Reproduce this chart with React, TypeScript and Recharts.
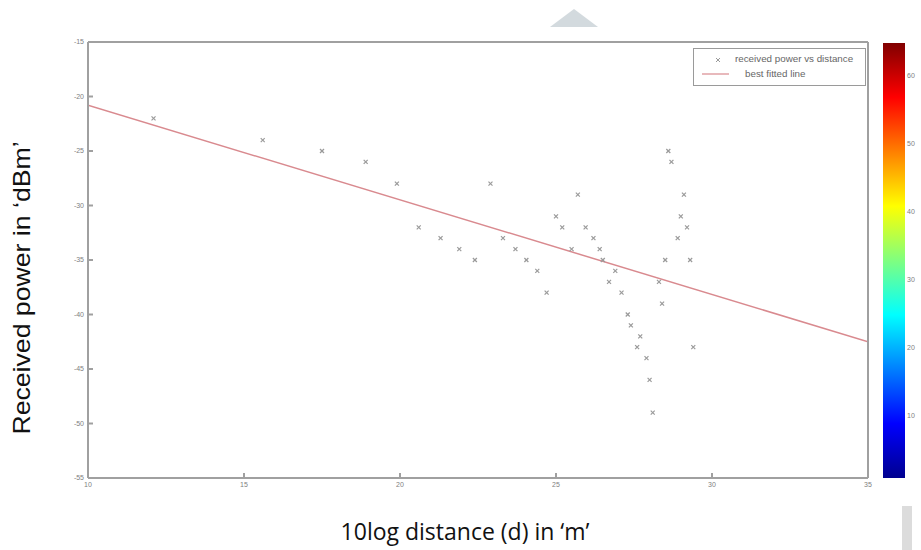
import React from 'react'
import { ComposedChart, Scatter, Line, XAxis, YAxis } from 'recharts'

// measured points: 10log distance vs received power
const distance = [12.1, 15.6, 17.5, 18.9, 19.9, 20.6, 21.3, 21.9, 22.4, 22.9, 23.3, 23.7, 24.05, 24.4, 24.7, 25.0, 25.2, 25.5, 25.7, 25.95, 26.2, 26.4, 26.5, 26.7, 26.9, 27.1, 27.3, 27.4, 27.6, 27.7, 27.9, 28.0, 28.1, 28.3, 28.4, 28.5, 28.6, 28.7, 28.9, 29.0, 29.1, 29.2, 29.3, 29.4]
const power = [-22, -24, -25, -26, -28, -32, -33, -34, -35, -28, -33, -34, -35, -36, -38, -31, -32, -34, -29, -32, -33, -34, -35, -37, -36, -38, -40, -41, -43, -42, -44, -46, -49, -37, -39, -35, -25, -26, -33, -31, -29, -32, -35, -43]

// best fitted line end points
const fitX = [10, 35]
const fitY = [-20.8, -42.5]

const xTicks = [10, 15, 20, 25, 30, 35]
const yTicks = [-15, -20, -25, -30, -35, -40, -45, -50, -55]
const colorTicks = [10, 20, 30, 40, 50, 60]

const points = distance.map((x, i) => ({ x, y: power[i] }))
const fitLine = fitX.map((x, i) => ({ x, y: fitY[i] }))

const axisColor = '#a0a0a0'
const tickStyle = { fontSize: 7, fill: '#808080', stroke: 'none', fontFamily: 'Liberation Sans' }

const Dot = (props: any) => {
  const { cx, cy } = props
  if (cx == null || cy == null) return null
  return (
    <g stroke="#9a9a9a" strokeWidth={1.2}>
      <line x1={cx - 2} y1={cy - 2} x2={cx + 2} y2={cy + 2} />
      <line x1={cx - 2} y1={cy + 2} x2={cx + 2} y2={cy - 2} />
    </g>
  )
}

// colorbar value range (approx 1..65)
const cbMin = 1
const cbMax = 65
const cbTop = 43
const cbBottom = 478

const App: React.FC = () => {
  return (
    <div style={{ position: 'absolute', left: 0, top: 0, width: 921, height: 550, background: '#fff' }}>
      <ComposedChart width={921} height={550} margin={{ top: 42, right: 53, bottom: 42, left: 58 }}>
        <XAxis
          xAxisId="b"
          type="number"
          dataKey="x"
          domain={[10, 35]}
          ticks={xTicks}
          allowDataOverflow
          height={30}
          stroke={axisColor}
          strokeWidth={2}
          tickSize={-5}
          tickMargin={9}
          tick={tickStyle}
        />
        <XAxis
          xAxisId="t"
          orientation="top"
          type="number"
          dataKey="x"
          domain={[10, 35]}
          ticks={xTicks}
          height={1}
          mirror
          tick={false}
          tickSize={5}
          stroke={axisColor}
          strokeWidth={2}
        />
        <YAxis
          yAxisId="l"
          type="number"
          dataKey="y"
          domain={[-55, -15]}
          ticks={yTicks}
          allowDataOverflow
          width={30}
          stroke={axisColor}
          strokeWidth={2}
          tickSize={-5}
          tickMargin={9}
          tick={tickStyle}
        />
        <YAxis
          yAxisId="r"
          orientation="right"
          type="number"
          dataKey="y"
          domain={[-55, -15]}
          ticks={yTicks}
          width={1}
          mirror
          tick={false}
          tickSize={5}
          stroke={axisColor}
          strokeWidth={2}
        />
        <Line
          xAxisId="b"
          yAxisId="l"
          data={fitLine}
          dataKey="y"
          stroke="#d98a8f"
          strokeWidth={1.5}
          dot={false}
          isAnimationActive={false}
        />
        <Scatter
          xAxisId="b"
          yAxisId="l"
          data={points}
          shape={<Dot />}
          isAnimationActive={false}
        />
      </ComposedChart>

      {/* legend */}
      <div
        style={{
          position: 'absolute',
          left: 693,
          top: 48,
          width: 171,
          height: 36,
          border: '1px solid #9a9a9a',
          background: '#fff',
          fontFamily: 'Liberation Sans',
          fontSize: 9.8,
          color: '#666',
          whiteSpace: 'nowrap',
        }}
      >
        <svg width={40} height={36} style={{ position: 'absolute', left: 0, top: 0 }}>
          <g stroke="#9a9a9a" strokeWidth={1}>
            <line x1={22} y1={9} x2={26} y2={13} />
            <line x1={22} y1={13} x2={26} y2={9} />
          </g>
          <line x1={8} y1={25} x2={35} y2={25} stroke="#d98a8f" strokeWidth={1.2} />
        </svg>
        <div style={{ position: 'absolute', left: 41, top: 4 }}>received power vs distance</div>
        <div style={{ position: 'absolute', left: 51, top: 19 }}>best fitted line</div>
      </div>

      {/* colorbar */}
      <div
        style={{
          position: 'absolute',
          left: 883,
          top: cbTop,
          width: 22,
          height: cbBottom - cbTop,
          background:
            'linear-gradient(to top, #00008f 0%, #0000ff 12.5%, #00ffff 37.5%, #ffff00 62.5%, #ff0000 87.5%, #800000 100%)',
        }}
      />
      {colorTicks.map((v) => {
        const y = cbBottom - ((v - cbMin) / (cbMax - cbMin)) * (cbBottom - cbTop)
        return (
          <div
            key={v}
            style={{
              position: 'absolute',
              left: 907,
              top: y - 5,
              fontFamily: 'Liberation Sans',
              fontSize: 7,
              color: '#808080',
            }}
          >
            {v}
          </div>
        )
      })}

      {/* axis titles */}
      <div
        style={{
          position: 'absolute',
          left: 465,
          top: 515,
          transform: 'translateX(-50%)',
          fontFamily: 'Open Sans',
          fontSize: 23,
          lineHeight: 'normal',
          color: '#111',
          whiteSpace: 'nowrap',
        }}
      >
        10log distance (d) in ‘m’
      </div>
      <div
        style={{
          position: 'absolute',
          left: 22,
          top: 288,
          transform: 'translate(-50%, -50%) rotate(-90deg) scaleX(1.11)',
          fontFamily: 'Liberation Sans',
          fontSize: 24,
          color: '#111',
          whiteSpace: 'nowrap',
        }}
      >
        Received power in ‘dBm’
      </div>

      {/* leftover artefacts of the source picture */}
      <div
        style={{
          position: 'absolute',
          left: 550,
          top: 9,
          width: 0,
          height: 0,
          borderLeft: '24px solid transparent',
          borderRight: '24px solid transparent',
          borderBottom: '18px solid #d3dade',
        }}
      />
      <div style={{ position: 'absolute', left: 902, top: 506, width: 10, height: 44, background: '#dcdcdc' }} />
    </div>
  )
}

export default App
